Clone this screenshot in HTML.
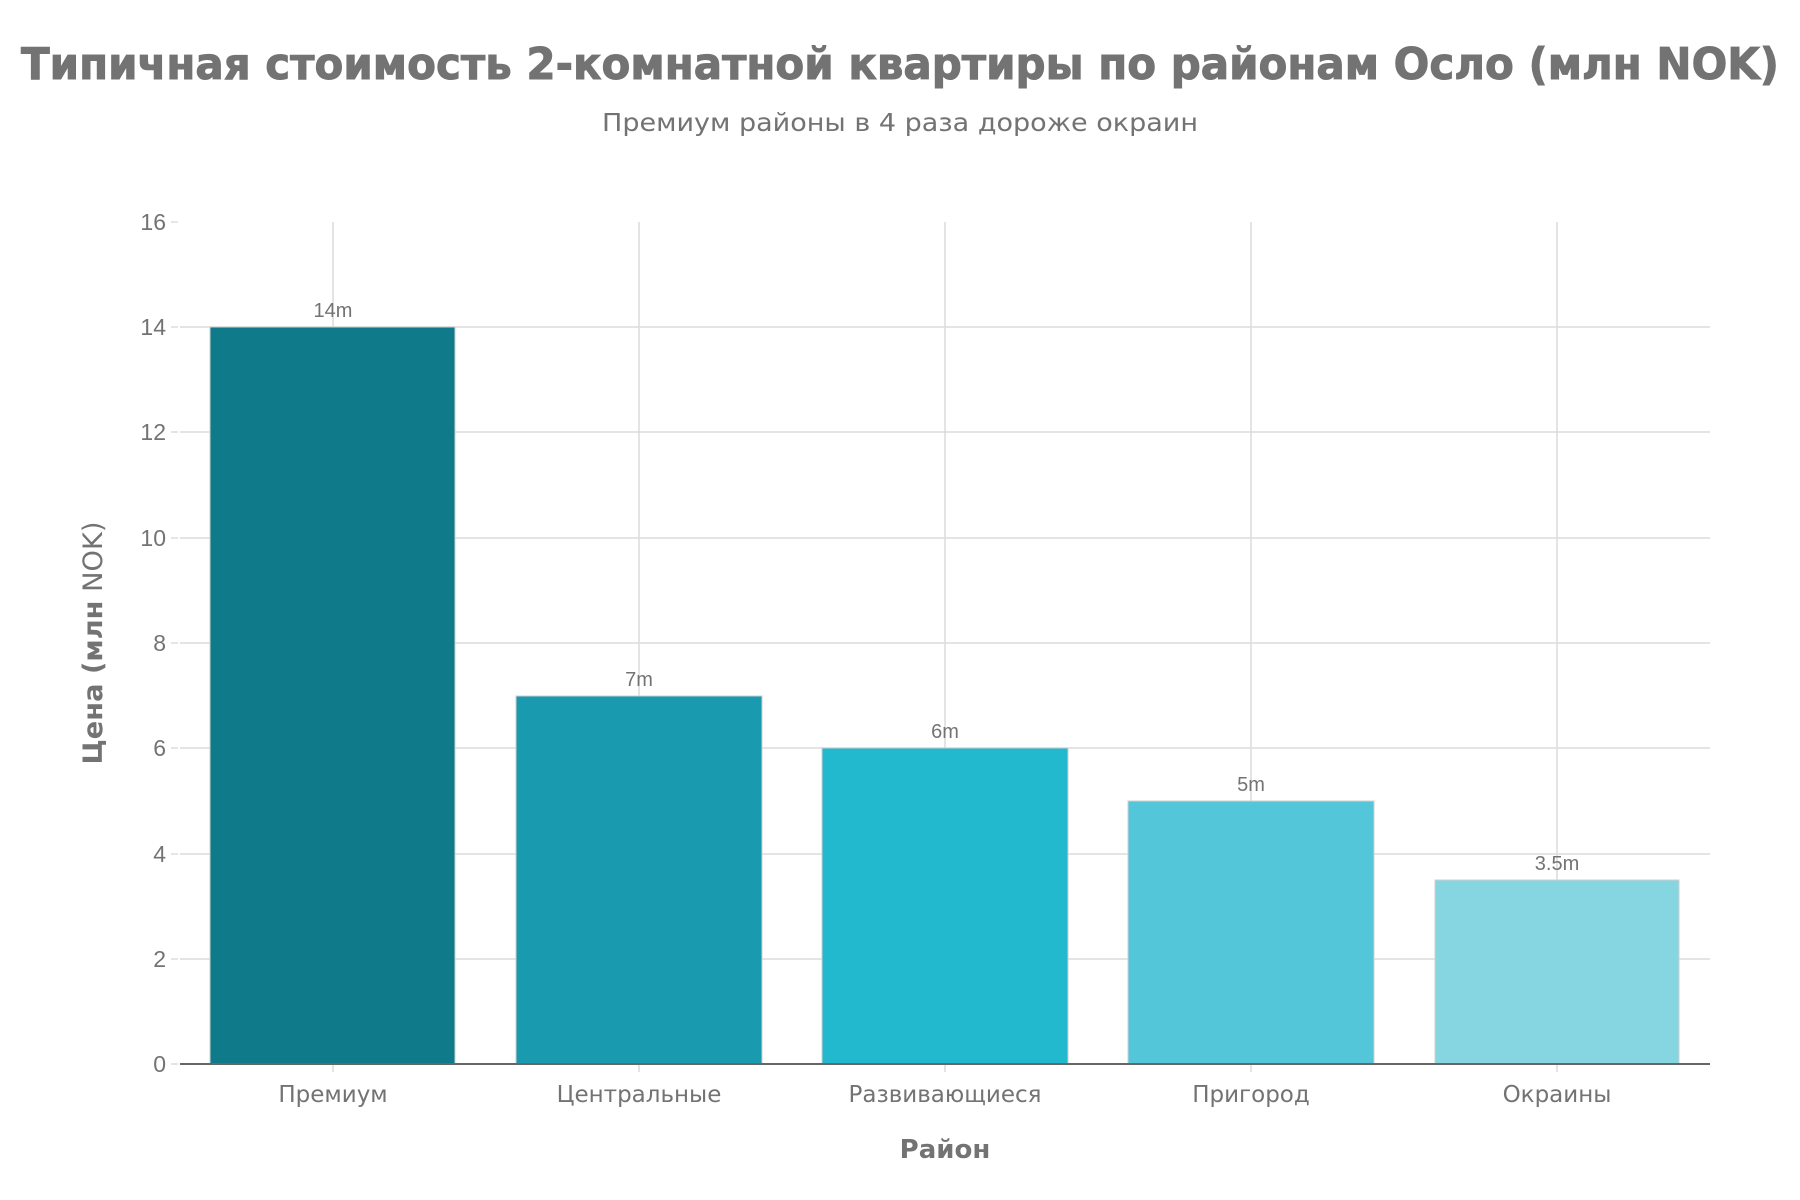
<!DOCTYPE html>
<html><head><meta charset="utf-8"><style>html,body{margin:0;padding:0;background:#fff}svg{display:block}</style></head>
<body>
<svg width="1800" height="1200" xmlns="http://www.w3.org/2000/svg">
<rect width="1800" height="1200" fill="#fff"/>
<text x="900" y="79" text-anchor="middle" font-family="DejaVu Sans, sans-serif" font-weight="bold" font-size="44" fill="#737373" stroke="#737373" stroke-width="1" textLength="1758" lengthAdjust="spacingAndGlyphs">Типичная стоимость 2-комнатной квартиры по районам Осло (млн NOK)</text>
<text x="900" y="131" text-anchor="middle" font-family="DejaVu Sans, sans-serif" font-size="25" fill="#737373" textLength="596" lengthAdjust="spacingAndGlyphs">Премиум районы в 4 раза дороже окраин</text>
<g stroke="#dcdcdc" stroke-width="1.5">
<line x1="180" x2="1710" y1="959" y2="959"/><line x1="180" x2="1710" y1="854" y2="854"/>
<line x1="180" x2="1710" y1="748" y2="748"/><line x1="180" x2="1710" y1="643" y2="643"/>
<line x1="180" x2="1710" y1="538" y2="538"/><line x1="180" x2="1710" y1="432" y2="432"/>
<line x1="180" x2="1710" y1="327" y2="327"/>
<line x1="333" x2="333" y1="222" y2="1072"/><line x1="639" x2="639" y1="222" y2="1072"/>
<line x1="945" x2="945" y1="222" y2="1072"/><line x1="1251" x2="1251" y1="222" y2="1072"/>
<line x1="1557" x2="1557" y1="222" y2="1072"/>
<line x1="171" x2="178" y1="1064" y2="1064"/><line x1="171" x2="178" y1="959" y2="959"/>
<line x1="171" x2="178" y1="854" y2="854"/><line x1="171" x2="178" y1="748" y2="748"/>
<line x1="171" x2="178" y1="643" y2="643"/><line x1="171" x2="178" y1="538" y2="538"/>
<line x1="171" x2="178" y1="432" y2="432"/><line x1="171" x2="178" y1="327" y2="327"/>
<line x1="171" x2="178" y1="222" y2="222"/>
</g>
<g stroke="#cfcfcf" stroke-width="1">
<rect x="210" y="327" width="245" height="737" fill="#0f7b8a"/>
<rect x="516" y="696" width="246" height="368" fill="#1a9aaf"/>
<rect x="822" y="748" width="246" height="316" fill="#22b8cd"/>
<rect x="1128" y="801" width="246" height="263" fill="#53c7d9"/>
<rect x="1435" y="880" width="244" height="184" fill="#86d6e2"/>
</g>
<line x1="180" x2="1710" y1="1064" y2="1064" stroke="#666" stroke-width="2"/>
<g font-family="Liberation Sans, sans-serif" font-size="20" fill="#737373" text-anchor="middle">
<text x="333" y="317">14m</text><text x="639" y="686">7m</text><text x="945" y="738">6m</text>
<text x="1251" y="791">5m</text><text x="1557" y="870">3.5m</text>
</g>
<g font-family="Liberation Sans, sans-serif" font-size="23" fill="#737373" text-anchor="end">
<text x="166" y="1072">0</text><text x="166" y="967">2</text><text x="166" y="862">4</text>
<text x="166" y="756">6</text><text x="166" y="651">8</text><text x="166" y="546">10</text>
<text x="166" y="440">12</text><text x="166" y="335">14</text><text x="166" y="230">16</text>
</g>
<g font-family="DejaVu Sans, sans-serif" font-size="23" fill="#737373" text-anchor="middle">
<text x="333" y="1102">Премиум</text><text x="639" y="1102">Центральные</text>
<text x="945" y="1102">Развивающиеся</text><text x="1251" y="1102">Пригород</text>
<text x="1557" y="1102">Окраины</text>
</g>
<text x="945" y="1158" text-anchor="middle" font-family="DejaVu Sans, sans-serif" font-weight="bold" font-size="26" fill="#737373">Район</text>
<text transform="translate(102,643) rotate(-90)" text-anchor="middle" font-family="DejaVu Sans, sans-serif" font-size="27" fill="#737373" textLength="243" lengthAdjust="spacingAndGlyphs"><tspan font-weight="bold">Цена (млн</tspan> NOK)</text>
</svg>
</body></html>
